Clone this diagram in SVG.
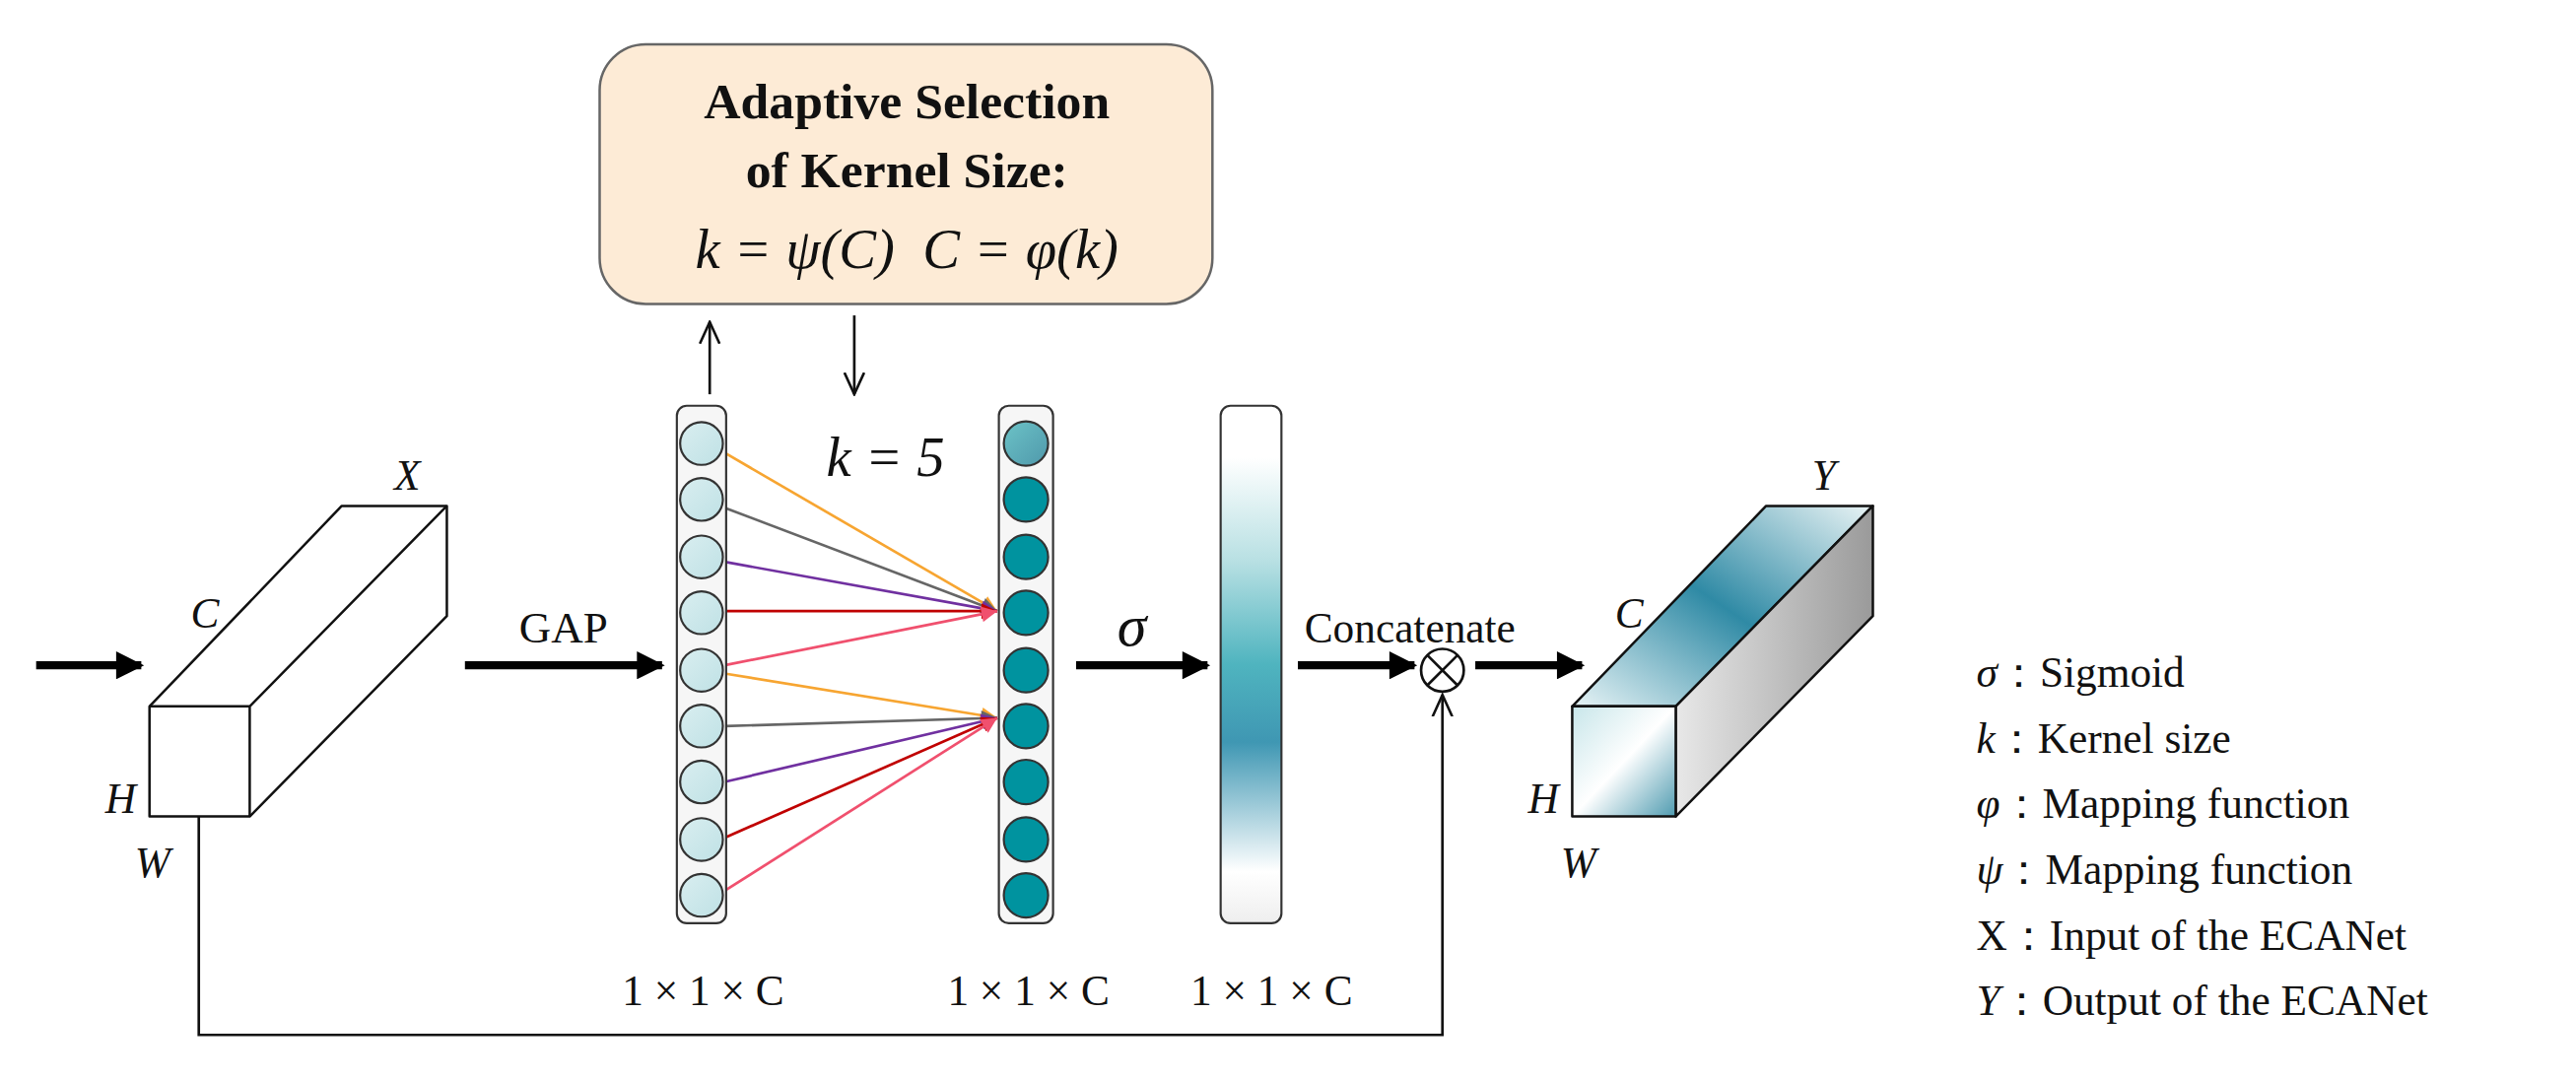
<svg xmlns="http://www.w3.org/2000/svg" width="2614" height="1096" viewBox="0 0 2614 1096">
<style>
text{font-family:"Liberation Serif","DejaVu Serif",serif;fill:#111}
.it{font-style:italic}
.thick{stroke:#000;stroke-width:5;fill:none}
.thin{stroke:#111;stroke-width:1.6;fill:none}
.box{stroke:#111;stroke-width:1.5;stroke-linejoin:round}
.c1{fill:url(#gc1);stroke:#333;stroke-width:1.3}
.c2{fill:#00939f;stroke:#333;stroke-width:1.3}
</style>
<defs>
<marker id="fa" viewBox="0 0 10 10" refX="9" refY="5" markerWidth="4" markerHeight="3.4" orient="auto" markerUnits="strokeWidth"><path d="M0,0L10,5L0,10z" fill="#000"/></marker>
<marker id="oa" viewBox="0 0 12 12" refX="11" refY="6" markerWidth="9" markerHeight="9" orient="auto" markerUnits="strokeWidth"><path d="M0,1L11,6L0,11" fill="none" stroke="#111" stroke-width="1.3"/></marker>
<marker id="ma" viewBox="0 0 10 10" refX="10" refY="5" markerWidth="7" markerHeight="6" orient="auto" markerUnits="strokeWidth"><path d="M0,0L10,5L0,10z" fill="context-stroke"/></marker>
<linearGradient id="gc1" x1="0" y1="0" x2="1" y2="1"><stop offset="0" stop-color="#d9eef0"/><stop offset="1" stop-color="#bfe1e5"/></linearGradient>
<linearGradient id="gc0" x1="0" y1="0" x2="1" y2="1"><stop offset="0" stop-color="#6cc3c7"/><stop offset="1" stop-color="#4f98ab"/></linearGradient>
<linearGradient id="gbar" x1="0" y1="0" x2="0" y2="1"><stop offset="0" stop-color="#fff"/><stop offset="0.1" stop-color="#fff"/><stop offset="0.3" stop-color="#b8e0e3"/><stop offset="0.5" stop-color="#4fb4bf"/><stop offset="0.65" stop-color="#3f97b3"/><stop offset="0.9" stop-color="#fff"/><stop offset="1" stop-color="#eee"/></linearGradient>
<linearGradient id="gfront" x1="0" y1="0" x2="1" y2="1"><stop offset="0" stop-color="#c8e6ea"/><stop offset="0.5" stop-color="#fff"/><stop offset="1" stop-color="#4f9bb0"/></linearGradient>
<linearGradient id="gtop" x1="0" y1="1" x2="1" y2="0"><stop offset="0" stop-color="#e8f4f6"/><stop offset="0.5" stop-color="#2f8aa5"/><stop offset="1" stop-color="#eaf4f5"/></linearGradient>
<linearGradient id="gside" x1="0" y1="0" x2="1" y2="0"><stop offset="0" stop-color="#e8e8e8"/><stop offset="1" stop-color="#9a9a9a"/></linearGradient>
</defs>
<g transform="scale(1.6671)">
<g id="connectors">
<line class="thick" x1="22" y1="405" x2="86" y2="405" marker-end="url(#fa)"/>
<line class="thick" x1="283" y1="405" x2="403" y2="405" marker-end="url(#fa)"/>
<line class="thick" x1="655" y1="405" x2="735" y2="405" marker-end="url(#fa)"/>
<line class="thick" x1="790" y1="405" x2="861" y2="405" marker-end="url(#fa)"/>
<line class="thick" x1="898" y1="405" x2="963" y2="405" marker-end="url(#fa)"/>
<path class="thin" d="M121,497V630H878V423" marker-end="url(#oa)"/>
<line class="thin" x1="432" y1="240" x2="432" y2="196" marker-end="url(#oa)"/>
<line class="thin" x1="520" y1="192" x2="520" y2="240" marker-end="url(#oa)"/>
<g stroke-width="1.6" fill="none">
<line x1="440" y1="275" x2="607" y2="372" stroke="#f7a531" marker-end="url(#ma)"/>
<line x1="441" y1="309" x2="607" y2="372" stroke="#666" marker-end="url(#ma)"/>
<line x1="441" y1="342" x2="607" y2="372" stroke="#7030a0" marker-end="url(#ma)"/>
<line x1="441" y1="372" x2="607" y2="372" stroke="#c00000" marker-end="url(#ma)"/>
<line x1="441" y1="405" x2="607" y2="372" stroke="#f0506e" marker-end="url(#ma)"/>
<line x1="441" y1="410" x2="607" y2="437" stroke="#f7a531" marker-end="url(#ma)"/>
<line x1="441" y1="442" x2="607" y2="437" stroke="#666" marker-end="url(#ma)"/>
<line x1="441" y1="476" x2="607" y2="437" stroke="#7030a0" marker-end="url(#ma)"/>
<line x1="441" y1="510" x2="607" y2="437" stroke="#c00000" marker-end="url(#ma)"/>
<line x1="440" y1="543" x2="607" y2="437" stroke="#f0506e" marker-end="url(#ma)"/>
</g>
</g>
<g id="input-box">
<path class="box" fill="#fff" d="M91,430L208,308H272V375L152,497H91Z"/>
<path class="box" fill="none" d="M91,430H152V497M152,430L272,308"/>
<text class="it" x="240" y="298" font-size="26">X</text>
<text class="it" x="116" y="382" font-size="26">C</text>
<text class="it" x="64" y="495" font-size="26">H</text>
<text class="it" x="82" y="534" font-size="26">W</text>
</g>
<g id="kernel-box">
<rect x="365" y="27" width="373" height="158" rx="28" fill="#fdebd6" stroke="#666" stroke-width="1.5"/>
<text x="552" y="72" font-size="31" font-weight="bold" text-anchor="middle">Adaptive Selection</text>
<text x="552" y="114" font-size="31" font-weight="bold" text-anchor="middle">of Kernel Size:</text>
<text class="it" x="552" y="163" font-size="34" text-anchor="middle" xml:space="preserve">k = ψ(C)  C = φ(k)</text>
</g>
<text id="k5" class="it" x="503" y="290" font-size="34">k = 5</text>
<g id="col1">
<rect x="412" y="247" width="30" height="315" rx="6" fill="#f6f6f6" stroke="#333" stroke-width="1.3"/>
<circle class="c1" cx="427" cy="270" r="13"/><circle class="c1" cx="427" cy="304" r="13"/><circle class="c1" cx="427" cy="339" r="13"/><circle class="c1" cx="427" cy="373" r="13"/><circle class="c1" cx="427" cy="408" r="13"/><circle class="c1" cx="427" cy="442" r="13"/><circle class="c1" cx="427" cy="476" r="13"/><circle class="c1" cx="427" cy="511" r="13"/><circle class="c1" cx="427" cy="545" r="13"/>
</g>
<g id="col2">
<rect x="608" y="247" width="33" height="315" rx="6" fill="#f6f6f6" stroke="#333" stroke-width="1.3"/>
<circle cx="624.5" cy="270" r="13.5" fill="url(#gc0)" stroke="#333" stroke-width="1.3"/><circle class="c2" cx="624.5" cy="304" r="13.5"/><circle class="c2" cx="624.5" cy="339" r="13.5"/><circle class="c2" cx="624.5" cy="373" r="13.5"/><circle class="c2" cx="624.5" cy="408" r="13.5"/><circle class="c2" cx="624.5" cy="442" r="13.5"/><circle class="c2" cx="624.5" cy="476" r="13.5"/><circle class="c2" cx="624.5" cy="511" r="13.5"/><circle class="c2" cx="624.5" cy="545" r="13.5"/>
</g>
<g id="bar"><rect x="743" y="247" width="37" height="315" rx="6" fill="url(#gbar)" stroke="#333" stroke-width="1.3"/></g>
<text x="316" y="391" font-size="27">GAP</text>
<text class="it" x="680" y="393" font-size="36">σ</text>
<text x="794" y="391" font-size="26">Concatenate</text>
<g id="otimes"><circle cx="878" cy="408" r="13" fill="#fff" stroke="#111" stroke-width="1.6"/><path d="M868.8,398.8L887.2,417.2M887.2,398.8L868.8,417.2" stroke="#111" stroke-width="1.6"/></g>
<g id="output-box">
<path class="box" fill="url(#gtop)" d="M957,430L1075,308H1140L1020,430Z"/>
<path class="box" fill="url(#gside)" d="M1020,430L1140,308V375L1020,497Z"/>
<rect class="box" x="957" y="430" width="63" height="67" fill="url(#gfront)"/>
<text class="it" x="1103" y="298" font-size="26">Y</text>
<text class="it" x="983" y="382" font-size="26">C</text>
<text class="it" x="930" y="495" font-size="26">H</text>
<text class="it" x="950" y="534" font-size="26">W</text>
</g>
<g font-size="26">
<text x="428" y="612" text-anchor="middle">1 × 1 × C</text>
<text x="626" y="612" text-anchor="middle">1 × 1 × C</text>
<text x="774" y="612" text-anchor="middle">1 × 1 × C</text>
</g>
<g id="legend" font-size="26">
<text x="1203" y="418"><tspan class="it">σ</tspan>：Sigmoid</text>
<text x="1203" y="458"><tspan class="it">k</tspan>：Kernel size</text>
<text x="1203" y="498"><tspan class="it">φ</tspan>：Mapping function</text>
<text x="1203" y="538"><tspan class="it">ψ</tspan>：Mapping function</text>
<text x="1203" y="578">X：Input of the ECANet</text>
<text x="1203" y="618"><tspan class="it">Y</tspan>：Output of the ECANet</text>
</g>
</g>
</svg>
